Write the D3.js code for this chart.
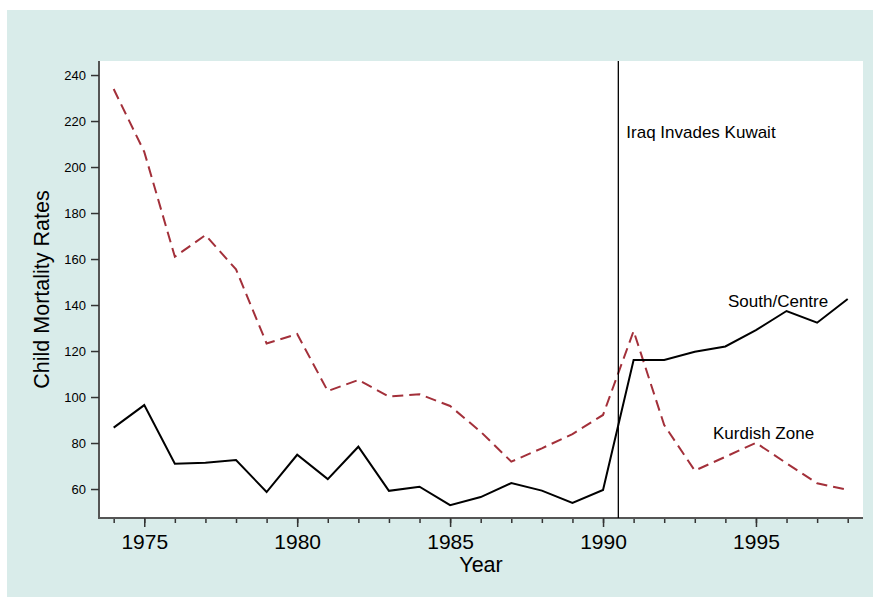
<!DOCTYPE html>
<html>
<head>
<meta charset="utf-8">
<script src="https://cdn.jsdelivr.net/npm/d3@7"></script>
<style>
  html, body { margin: 0; padding: 0; background: #ffffff; }
  svg { display: block; }
  text { font-family: "Liberation Sans", Arial, Helvetica, sans-serif; fill: #000; }
</style>
</head>
<body>
<svg id="chart" width="873" height="597"></svg>
<script>
const years = [1974,1975,1976,1977,1978,1979,1980,1981,1982,1983,1984,1985,1986,1987,1988,1989,1990,1991,1992,1993,1994,1995,1996,1997,1998];
const southCentre = [86.7,96.5,71.0,71.4,72.6,58.7,74.9,64.3,78.4,59.2,61.0,53.0,56.5,62.6,59.3,54.0,59.6,116.1,116.1,119.7,122.0,129.1,137.4,132.3,142.6];
const kurdishZone = [233.9,206.6,161.0,170.4,155.5,123.3,127.4,102.6,107.4,100.2,101.2,96.1,84.9,71.9,77.7,83.9,92.2,128.7,87.8,68.0,74.0,80.1,71.2,62.5,59.6];
const yTicks = [60,80,100,120,140,160,180,200,220,240];
const xMajorTicks = [1975,1980,1985,1990,1995];
const invasionYear = 1990.5;
const seriesLabels = ["South/Centre","Kurdish Zone"];
const eventLabel = "Iraq Invades Kuwait";

const svg = d3.select("#chart");
const W = 873, H = 597;
const plot = {left: 99, right: 863, top: 61, bottom: 518};

svg.append("rect").attr("x", 7).attr("y", 10).attr("width", W - 7).attr("height", H - 10).attr("fill", "#d9ecea");
svg.append("rect").attr("x", plot.left).attr("y", plot.top)
  .attr("width", plot.right - plot.left).attr("height", plot.bottom - plot.top).attr("fill", "#ffffff");

const x = d3.scaleLinear().domain([1973.52, 1998.5]).range([plot.left, plot.right]);
const y = d3.scaleLinear().domain([47.4, 246.1]).range([plot.bottom, plot.top]);

// Y axis
const yAxis = svg.append("g").attr("transform", `translate(${plot.left},0)`)
  .call(d3.axisLeft(y).tickValues(yTicks).tickSize(8).tickPadding(5).tickSizeOuter(0));
yAxis.select(".domain").attr("stroke", "#555").attr("stroke-width", 2);
yAxis.selectAll(".tick line").attr("stroke", "#333").attr("stroke-width", 1.5);
yAxis.selectAll(".tick text").attr("font-size", 13).attr("font-family", "Liberation Sans, Arial, sans-serif").attr("fill", "#000");
yAxis.select(".domain").attr("d", `M0,${plot.bottom}V${plot.top}`);

// X axis minor ticks
const xAxisMinor = svg.append("g").attr("transform", `translate(0,${plot.bottom})`)
  .call(d3.axisBottom(x).tickValues(years).tickSize(5).tickFormat(""));
xAxisMinor.select(".domain").remove();
xAxisMinor.selectAll(".tick line").attr("stroke", "#333").attr("stroke-width", 1.5);

const xAxis = svg.append("g").attr("transform", `translate(0,${plot.bottom})`)
  .call(d3.axisBottom(x).tickValues(xMajorTicks).tickSize(9).tickPadding(7).tickFormat(d3.format("d")));
xAxis.select(".domain").attr("stroke", "#555").attr("stroke-width", 2).attr("d", `M${plot.left - 1},0H${plot.right}`);
xAxis.selectAll(".tick line").attr("stroke", "#333").attr("stroke-width", 1.5);
xAxis.selectAll(".tick text").attr("font-size", 21).attr("font-family", "Liberation Sans, Arial, sans-serif").attr("fill", "#000");

// Axis titles
svg.append("text").attr("x", (plot.left + plot.right) / 2).attr("y", 572)
  .attr("text-anchor", "middle").attr("font-size", 21.5).text("Year");
svg.append("text").attr("transform", `translate(49,${(plot.top + plot.bottom) / 2}) rotate(-90)`)
  .attr("text-anchor", "middle").attr("font-size", 21.5).text("Child Mortality Rates");

// Lines
const line = (vals) => d3.line().x((d, i) => x(years[i])).y(d => y(d))(vals);

svg.append("path").attr("d", line(kurdishZone)).attr("fill", "none")
  .attr("stroke", "#a3303a").attr("stroke-width", 2).attr("stroke-dasharray", "11,6");
svg.append("path").attr("d", line(southCentre)).attr("fill", "none")
  .attr("stroke", "#000").attr("stroke-width", 2).attr("stroke-linejoin", "miter");

// Event line
svg.append("line").attr("x1", x(invasionYear)).attr("x2", x(invasionYear))
  .attr("y1", plot.top).attr("y2", plot.bottom).attr("stroke", "#000").attr("stroke-width", 1.3);

svg.append("text").attr("x", x(invasionYear) + 8).attr("y", 138).attr("font-size", 17).text(eventLabel);
svg.append("text").attr("x", 728).attr("y", 307).attr("font-size", 17).text(seriesLabels[0]);
svg.append("text").attr("x", 713).attr("y", 439).attr("font-size", 17).text(seriesLabels[1]);
</script>
</body>
</html>
